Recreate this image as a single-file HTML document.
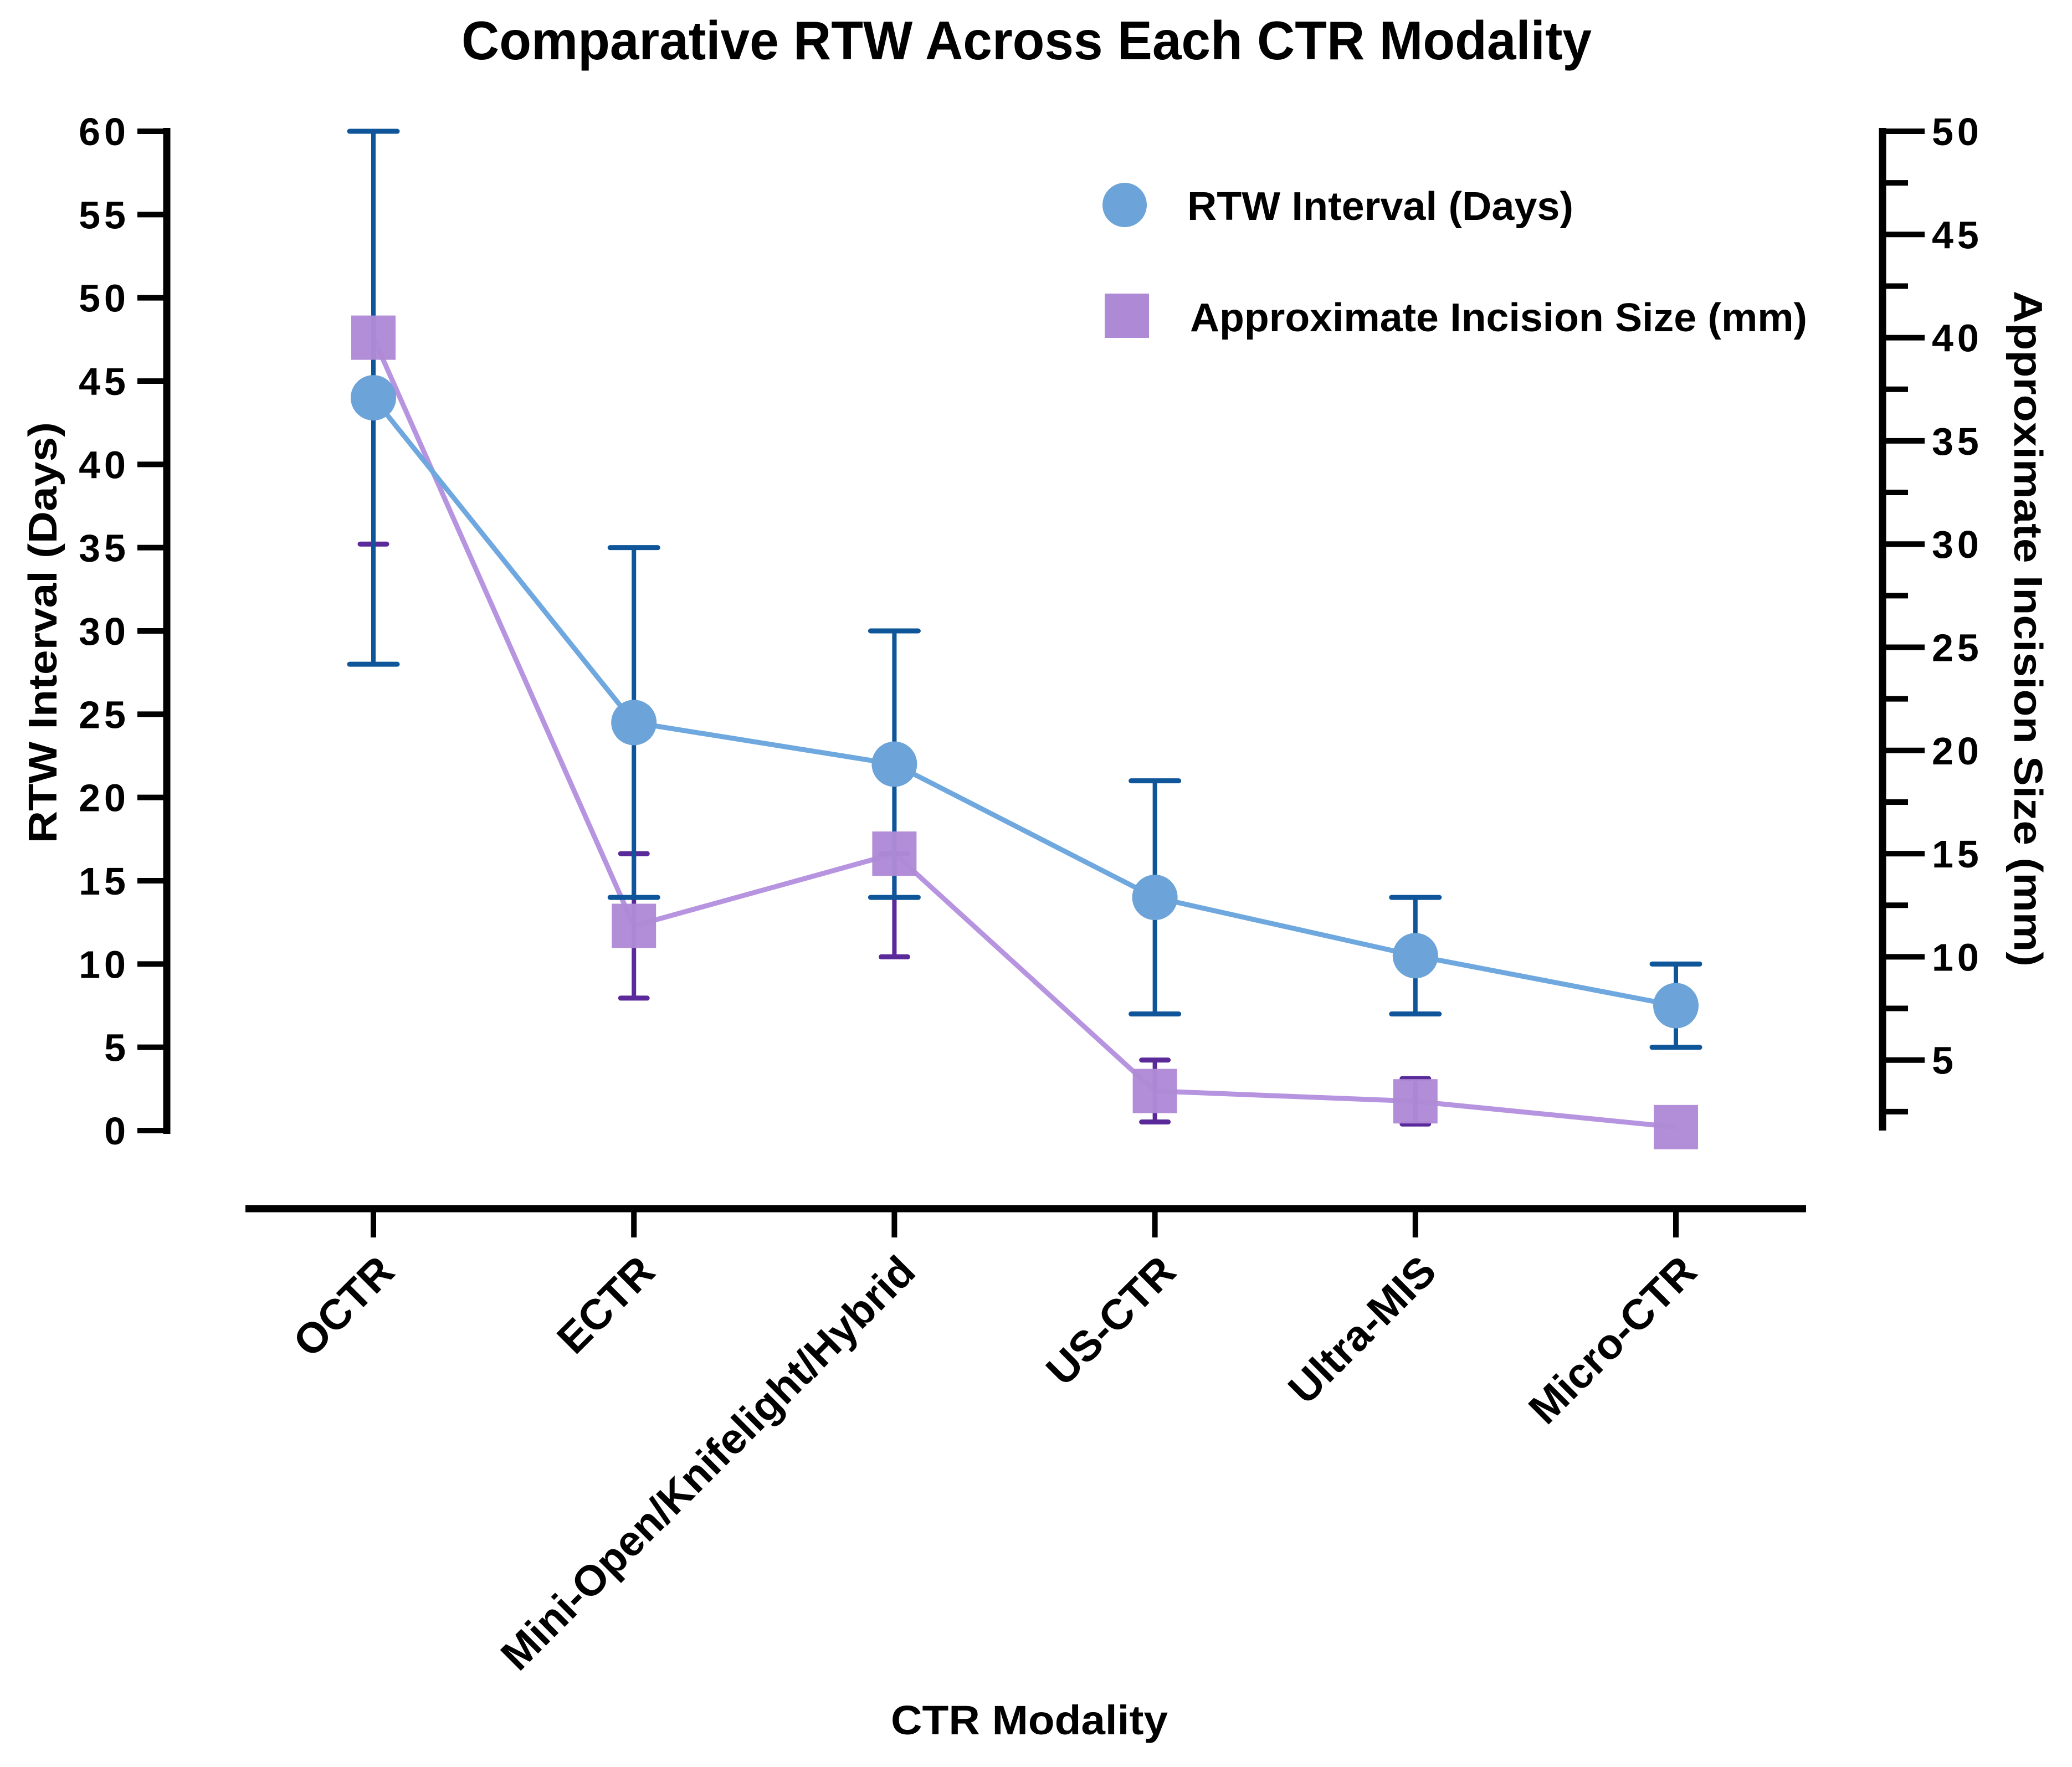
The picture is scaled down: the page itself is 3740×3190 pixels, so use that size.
<!DOCTYPE html>
<html><head><meta charset="utf-8"><style>
html,body{margin:0;padding:0;background:#fff;}
svg{display:block;font-family:"Liberation Sans",Arial,sans-serif;font-weight:bold;}
</style></head><body>
<svg id="chart" width="3740" height="3190" viewBox="0 0 3740 3190" xmlns="http://www.w3.org/2000/svg">
<rect width="3740" height="3190" fill="#fff"/>
<text x="1853" y="107" font-size="98" text-anchor="middle" textLength="2040" lengthAdjust="spacingAndGlyphs">Comparative RTW Across Each CTR Modality</text>
<text transform="translate(102,1142) rotate(-90)" font-size="72" text-anchor="middle" textLength="760" lengthAdjust="spacingAndGlyphs">RTW Interval (Days)</text>
<text transform="translate(3636,1135) rotate(90)" font-size="72" text-anchor="middle" textLength="1220" lengthAdjust="spacingAndGlyphs">Approximate Incision Size (mm)</text>
<text x="1858" y="3131" font-size="74" text-anchor="middle" textLength="500" lengthAdjust="spacingAndGlyphs">CTR Modality</text>
<g>
<g>
<ellipse cx="2030" cy="370" rx="40" ry="40" fill="#6CA3D8"/>
<text x="2143" y="397" font-size="72" textLength="697" lengthAdjust="spacingAndGlyphs">RTW Interval (Days)</text>
</g>
<g>
<rect x="1994" y="530" width="80" height="80" fill="#AE8AD6"/>
<text x="2148" y="598" font-size="72" textLength="1114" lengthAdjust="spacingAndGlyphs">Approximate Incision Size (mm)</text>
</g>
</g>
<g id="axes"></g>
<g id="marks"></g>
</svg>
<script>
const categories = ["OCTR","ECTR","Mini-Open/Knifelight/Hybrid","US-CTR","Ultra-MIS","Micro-CTR"];
const rtwValues = [44, 24.5, 22, 14, 10.5, 7.5];
const rtwLow = [28, 14, 14, 7, 7, 5];
const rtwHigh = [60, 35, 30, 21, 14, 10];
const incValues = [40, 11.5, 15, 3.5, 3, 1.75];
const incLow = [30, 8, 10, 2, 1.9, 1.75];
const incHigh = [50, 15, 15, 5, 4.1, 1.75];
const leftTicks = [0,5,10,15,20,25,30,35,40,45,50,55,60];
const rightTicks = [5,10,15,20,25,30,35,40,45,50];
const rightMinorTicks = [2.5,7.5,12.5,17.5,22.5,27.5,32.5,37.5,42.5,47.5];

const NS = "http://www.w3.org/2000/svg";
const yL = v => 2041 - (v/60)*(2041-237);
const yR = v => 237 + (50-v)/5*186.3;
const xC = i => 674 + i*470.2;
function mk(tag, attrs, parent){ const e=document.createElementNS(NS,tag); for(const k in attrs) e.setAttribute(k,attrs[k]); parent.appendChild(e); return e; }
const axes = document.getElementById('axes');
const marks = document.getElementById('marks');

let la = mk('line',{x1:301,y1:231,x2:301,y2:2047,stroke:'#000','stroke-width':13},axes);


leftTicks.forEach(v=>{
  const t = mk('line',{x1:248,y1:yL(v),x2:301,y2:yL(v),stroke:'#000','stroke-width':10},axes);
  
  
  const l = mk('text',{x:234,y:yL(v)+25,'font-size':70,'text-anchor':'end','letter-spacing':7},axes);
  l.textContent = v;
  
  
});
let ra = mk('line',{x1:3398,y1:231,x2:3398,y2:2041,stroke:'#000','stroke-width':13},axes);


rightTicks.forEach(v=>{
  const t = mk('line',{x1:3398,y1:yR(v),x2:3474,y2:yR(v),stroke:'#000','stroke-width':10},axes);
  
  
  const l = mk('text',{x:3487,y:yR(v)+25,'font-size':70,'letter-spacing':7},axes);
  l.textContent = v;
  
  
});
rightMinorTicks.forEach(v=>{
  const t = mk('line',{x1:3398,y1:yR(v),x2:3444,y2:yR(v),stroke:'#000','stroke-width':10},axes);
  
  
});
let xa = mk('line',{x1:443,y1:2182,x2:3260,y2:2182,stroke:'#000','stroke-width':13},axes);


categories.forEach((c,i)=>{
  const x = xC(i);
  const t = mk('line',{x1:x,y1:2182,x2:x,y2:2234,stroke:'#000','stroke-width':10},axes);
  
  
  const l = mk('text',{transform:`translate(${x+42},2300) rotate(-45)`,'font-size':77,'text-anchor':'end'},axes);
  l.textContent = c;
  
  
});

const rtwPts = rtwValues.map((v,i)=>xC(i)+','+yL(v)).join(' ');
const incPts = incValues.map((v,i)=>xC(i)+','+yR(v)).join(' ');
let pl2 = mk('polyline',{points:incPts,fill:'none',stroke:'#B794E0','stroke-width':9},marks);


let pl1 = mk('polyline',{points:rtwPts,fill:'none',stroke:'#6FA8DE','stroke-width':9},marks);



function errbar(x,y1,y2,color,cap,name){
  const g = mk('g',{},marks);
  
  
  mk('line',{x1:x,y1:y1,x2:x,y2:y2,stroke:color,'stroke-width':8},g);
  mk('line',{x1:x-cap/2,y1:y1,x2:x+cap/2,y2:y1,stroke:color,'stroke-width':9,'stroke-linecap':'round'},g);
  mk('line',{x1:x-cap/2,y1:y2,x2:x+cap/2,y2:y2,stroke:color,'stroke-width':9,'stroke-linecap':'round'},g);
}
incValues.forEach((v,i)=>{
  if(incHigh[i]!==incLow[i]) errbar(xC(i),yR(incHigh[i]),yR(incLow[i]),'#5B2A9A',48,'incision-error-bar');
});
rtwValues.forEach((v,i)=>{
  errbar(xC(i),yL(rtwHigh[i]),yL(rtwLow[i]),'#0E5699',86,'rtw-error-bar');
});
incValues.forEach((v,i)=>{
  const r = mk('rect',{x:xC(i)-40,y:yR(v)-40,width:80,height:80,fill:'#AE8AD6','fill-opacity':0.97},marks);
  
  
});
rtwValues.forEach((v,i)=>{
  const c = mk('circle',{cx:xC(i),cy:yL(v),r:41,fill:'#6CA3D8'},marks);
  
  
});
</script>
</body></html>
